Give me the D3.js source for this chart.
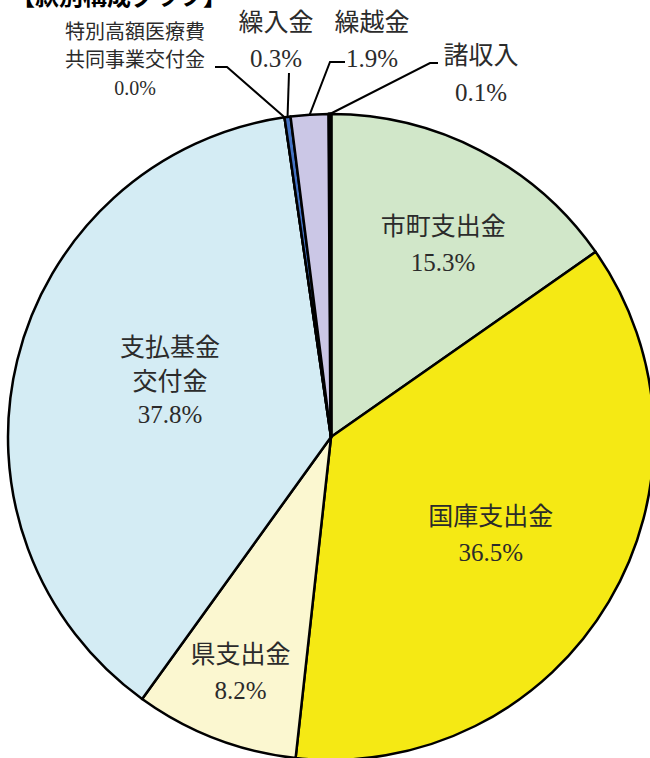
<!DOCTYPE html>
<html>
<head>
<meta charset="utf-8">
<script src="https://cdn.jsdelivr.net/npm/d3@7"></script>
<style>
  body { margin: 0; background: #fff; }
  svg text { font-family: "Liberation Serif", "Noto Sans CJK JP", serif; fill: #2b2b2b; }
</style>
</head>
<body>
<div id="chart"></div>
<script>
// slices clockwise from 12 o'clock
var categories = ["市町支出金", "国庫支出金", "県支出金", "支払基金交付金",
  "特別高額医療費共同事業交付金", "繰入金", "繰越金", "諸収入"];
var values = [15.3, 36.5, 8.2, 37.8, 0.0, 0.3, 1.9, 0.1];
var valueLabels = ["15.3%", "36.5%", "8.2%", "37.8%", "0.0%", "0.3%", "1.9%", "0.1%"];
// label lines as shown (category wrapped)
var labelLines = [["市町支出金"], ["国庫支出金"], ["県支出金"], ["支払基金", "交付金"],
  ["特別高額医療費", "共同事業交付金"], ["繰入金"], ["繰越金"], ["諸収入"]];
var colors = ["#d1e7c9", "#f5e914", "#fbf7d0", "#d4ecf4", "#2f75b5", "#4472c4", "#cbc7e6", "#111111"];

var width = 650, height = 758;
var cx = 331, cy = 437, radius = 323;

var svg = d3.select("#chart")
  .append("svg")
  .attr("width", width)
  .attr("height", height);

// title (cut off at the top, as in the original)
svg.append("text")
  .attr("x", 11)
  .attr("y", 5)
  .attr("font-size", 24)
  .attr("font-weight", "bold")
  .style("font-family", "'Noto Sans CJK JP'")
  .style("fill", "#000")
  .text("【款別構成グラフ】");

var pie = d3.pie().sort(null).value(function (d) { return d; });
var arcs = pie(values);
var arc = d3.arc().innerRadius(0).outerRadius(radius);

var g = svg.append("g").attr("transform", "translate(" + cx + "," + cy + ")");

g.selectAll("path")
  .data(arcs)
  .enter()
  .append("path")
  .attr("d", arc)
  .attr("fill", function (d, i) { return colors[i]; })
  .attr("stroke", "#000")
  .attr("stroke-width", function (d, i) { return i === 7 ? 3.5 : 2.5; })
  .attr("stroke-linejoin", "round");

// inside labels: [radius factor, angle shift in degrees] from slice mid-angle
var insidePos = { 0: [0.69, 2.7], 1: [0.58, 0.8], 2: [0.78, 0], 3: [0.527, 5.2] };
var fs = 25;

Object.keys(insidePos).forEach(function (k) {
  var i = +k;
  var a = arcs[i];
  var mid = (a.startAngle + a.endAngle) / 2 + insidePos[k][1] * Math.PI / 180;
  var r = radius * insidePos[k][0];
  var x = r * Math.sin(mid), y = -r * Math.cos(mid);
  var lines = labelLines[i].concat([valueLabels[i]]);
  var offs = lines.length === 3 ? [-34, 0, 33] : [-18, 18];
  lines.forEach(function (t, j) {
    g.append("text")
      .attr("x", x)
      .attr("y", y + offs[j])
      .attr("text-anchor", "middle")
      .attr("dominant-baseline", "central")
      .attr("font-size", fs)
      .text(t);
  });
});

// outside labels: positions of the text block and elbow of the leader line
var outside = [
  { i: 4, x: 135, ys: [32, 60, 88], size: 20, elbow: [[215, 67], [227, 67]] },
  { i: 5, x: 276, ys: [22, 58], size: 25, elbow: [[289, 73]] },
  { i: 6, x: 372, ys: [22, 58], size: 25, elbow: [[345, 62], [330, 62]] },
  { i: 7, x: 481, ys: [55, 92], size: 25, elbow: [[438, 63], [430, 63]] }
];

outside.forEach(function (o) {
  var lines = labelLines[o.i].concat([valueLabels[o.i]]);
  lines.forEach(function (t, j) {
    svg.append("text")
      .attr("x", o.x)
      .attr("y", o.ys[j])
      .attr("text-anchor", "middle")
      .attr("dominant-baseline", "central")
      .attr("font-size", o.size)
      .text(t);
  });
  var a = arcs[o.i];
  var mid = (a.startAngle + a.endAngle) / 2;
  var end = [cx + radius * Math.sin(mid), cy - radius * Math.cos(mid)];
  var pts = o.elbow.concat([end]);
  svg.append("path")
    .attr("d", d3.line()(pts))
    .attr("fill", "none")
    .attr("stroke", "#000")
    .attr("stroke-width", 2);
});
</script>
</body>
</html>
